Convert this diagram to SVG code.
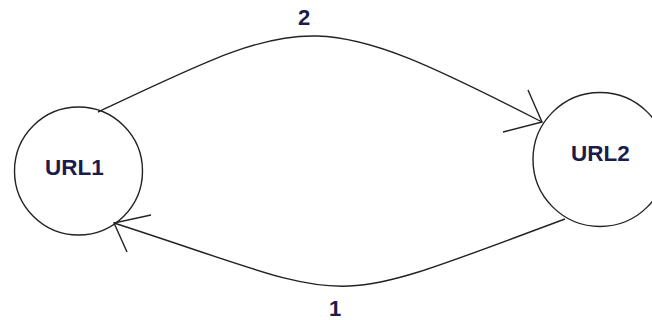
<svg xmlns="http://www.w3.org/2000/svg" width="652" height="320" viewBox="0 0 652 320">
<style>
.node{fill:#fff;stroke:#222;stroke-width:1.4}
.edge{fill:none;stroke:#222;stroke-width:1.4}
.lbl{font-family:"Liberation Sans",Arial,sans-serif;font-weight:bold;fill:#1c1c4c;text-anchor:middle}
</style>
<rect width="652" height="320" fill="#fff"/>
<g id="url1">
<circle class="node" cx="78.5" cy="171" r="64"/>
<text class="lbl" x="74.5" y="175" font-size="22.5">URL1</text>
</g>
<g id="url2">
<circle class="node" cx="600" cy="159.5" r="67"/>
<text class="lbl" x="600.5" y="161" font-size="22.5">URL2</text>
</g>
<g id="connectors">
<path class="edge" d="M98,112 C308,13 313,5 542,122"/>
<path class="edge" d="M528,90 L542,122 L503,132"/>
<text class="lbl" x="304" y="25" font-size="22">2</text>
<path class="edge" d="M565,219 C314,312 365,304 114,223"/>
<path class="edge" d="M151,215 L114,223 L127,252"/>
<text class="lbl" x="335" y="316" font-size="22">1</text>
</g>
</svg>
